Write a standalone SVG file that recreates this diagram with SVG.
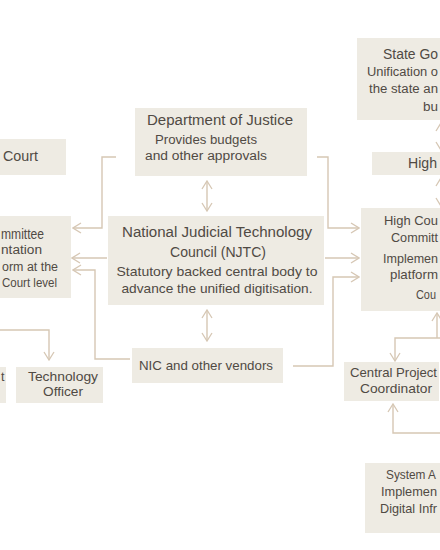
<svg xmlns="http://www.w3.org/2000/svg" width="440" height="550" viewBox="0 0 440 550">
<defs>
<marker id="ah" viewBox="0 0 10 12" refX="9" refY="6" markerWidth="10" markerHeight="12" markerUnits="userSpaceOnUse" orient="auto-start-reverse">
<path d="M1,1 L9,6 L1,11" fill="none" stroke="#D6C7B4" stroke-width="1.3"/>
</marker>
<style>
.box{fill:#EEEBE3}
.c{fill:none;stroke:#D6C7B4;stroke-width:1.4}
text{font-family:"Century Gothic","URW Gothic","Liberation Sans",sans-serif;fill:#504A44}
.t{font-size:14px}
.s{font-size:12.5px}
.m{font-size:13px}
</style>
</defs>
<rect width="440" height="550" fill="#FFFFFF"/>
<g id="connectors">
<path class="c" d="M116,157 H102 V228 H73" marker-end="url(#ah)"/>
<path class="c" d="M107,258 H72" marker-end="url(#ah)"/>
<path class="c" d="M130,359 H95 V270 H73" marker-end="url(#ah)"/>
<path class="c" d="M0,330 H49 V360" marker-end="url(#ah)"/>
<path class="c" d="M207,181 V211" marker-start="url(#ah)" marker-end="url(#ah)"/>
<path class="c" d="M207,310 V341" marker-start="url(#ah)" marker-end="url(#ah)"/>
<path class="c" d="M317,157 H328 V228 H359" marker-end="url(#ah)"/>
<path class="c" d="M325,258 H359" marker-end="url(#ah)"/>
<path class="c" d="M293,366 H333 V277 H359" marker-end="url(#ah)"/>
<path class="c" d="M441,123 V150" marker-start="url(#ah)" marker-end="url(#ah)"/>
<path class="c" d="M441,178 V206" marker-start="url(#ah)" marker-end="url(#ah)"/>
<path class="c" d="M437,338 V313" marker-end="url(#ah)"/>
<path class="c" d="M440,338 H395 V361" marker-end="url(#ah)"/>
<path class="c" d="M440,433 H393 V404" marker-end="url(#ah)"/>
</g>
<g id="court">
<rect class="box" x="-10" y="139" width="76" height="36"/>
<text class="t" x="3" y="161" textLength="35" lengthAdjust="spacingAndGlyphs">Court</text>
</g>
<g id="committee-left">
<rect class="box" x="-10" y="216" width="81" height="82"/>
<text class="t" x="1" y="239" textLength="43" lengthAdjust="spacingAndGlyphs">mmittee</text>
<text class="s" x="1" y="254" textLength="41" lengthAdjust="spacingAndGlyphs">ntation</text>
<text class="s" x="2" y="271" textLength="56" lengthAdjust="spacingAndGlyphs">orm at the</text>
<text class="s" x="2" y="287" textLength="55" lengthAdjust="spacingAndGlyphs">Court level</text>
</g>
<g id="left-small">
<rect class="box" x="-10" y="367" width="16" height="36"/>
<text class="m" x="1" y="381" textLength="3.5" lengthAdjust="spacingAndGlyphs">t</text>
</g>
<g id="tech-officer">
<rect class="box" x="16" y="367" width="87" height="36"/>
<text class="m" x="63" y="381" text-anchor="middle" textLength="70" lengthAdjust="spacingAndGlyphs">Technology</text>
<text class="m" x="63" y="396" text-anchor="middle" textLength="40" lengthAdjust="spacingAndGlyphs">Officer</text>
</g>
<g id="doj">
<rect class="box" x="135" y="108" width="172" height="68"/>
<text class="t" x="220" y="125" text-anchor="middle" textLength="146" lengthAdjust="spacingAndGlyphs">Department of Justice</text>
<text class="s" x="206" y="144" text-anchor="middle" textLength="102" lengthAdjust="spacingAndGlyphs">Provides budgets</text>
<text class="s" x="206" y="160" text-anchor="middle" textLength="122" lengthAdjust="spacingAndGlyphs">and other approvals</text>
</g>
<g id="njtc">
<rect class="box" x="108" y="216" width="216" height="89"/>
<text class="t" x="217" y="237" text-anchor="middle" textLength="190" lengthAdjust="spacingAndGlyphs">National Judicial Technology</text>
<text class="t" x="218" y="257" text-anchor="middle" textLength="96" lengthAdjust="spacingAndGlyphs">Council (NJTC)</text>
<text class="m" x="217" y="276" text-anchor="middle" textLength="201" lengthAdjust="spacingAndGlyphs">Statutory backed central body to</text>
<text class="m" x="217" y="293" text-anchor="middle" textLength="191" lengthAdjust="spacingAndGlyphs">advance the unified digitisation.</text>
</g>
<g id="nic">
<rect class="box" x="132" y="348" width="151" height="35"/>
<text class="m" x="206" y="370" text-anchor="middle" textLength="134" lengthAdjust="spacingAndGlyphs">NIC and other vendors</text>
</g>
<g id="state-gov">
<rect class="box" x="357" y="38" width="93" height="82"/>
<text class="t" x="383" y="59" textLength="55" lengthAdjust="spacingAndGlyphs">State Go</text>
<text class="s" x="367" y="76" textLength="71" lengthAdjust="spacingAndGlyphs">Unification o</text>
<text class="s" x="369" y="93" textLength="69" lengthAdjust="spacingAndGlyphs">the state an</text>
<text class="s" x="423" y="111" textLength="15" lengthAdjust="spacingAndGlyphs">bu</text>
</g>
<g id="high">
<rect class="box" x="372" y="152" width="78" height="23"/>
<text class="t" x="408" y="168" textLength="29" lengthAdjust="spacingAndGlyphs">High</text>
</g>
<g id="hc-committee">
<rect class="box" x="361" y="208" width="89" height="103"/>
<text class="m" x="384" y="225" textLength="54" lengthAdjust="spacingAndGlyphs">High Cou</text>
<text class="m" x="391" y="242" textLength="47" lengthAdjust="spacingAndGlyphs">Committ</text>
<text class="m" x="383" y="263" textLength="55" lengthAdjust="spacingAndGlyphs">Implemen</text>
<text class="m" x="390" y="279" textLength="48" lengthAdjust="spacingAndGlyphs">platform</text>
<text class="m" x="416" y="299" textLength="20" lengthAdjust="spacingAndGlyphs">Cou</text>
</g>
<g id="cpc">
<rect class="box" x="344" y="362" width="95" height="39"/>
<text class="m" x="393.5" y="377" text-anchor="middle" textLength="87" lengthAdjust="spacingAndGlyphs">Central Project</text>
<text class="m" x="396" y="393" text-anchor="middle" textLength="72" lengthAdjust="spacingAndGlyphs">Coordinator</text>
</g>
<g id="system">
<rect class="box" x="365" y="463" width="85" height="70"/>
<text class="m" x="386" y="479" textLength="50" lengthAdjust="spacingAndGlyphs">System A</text>
<text class="m" x="381" y="496" textLength="56" lengthAdjust="spacingAndGlyphs">Implemen</text>
<text class="m" x="380" y="513" textLength="57" lengthAdjust="spacingAndGlyphs">Digital Infr</text>
</g>
</svg>
